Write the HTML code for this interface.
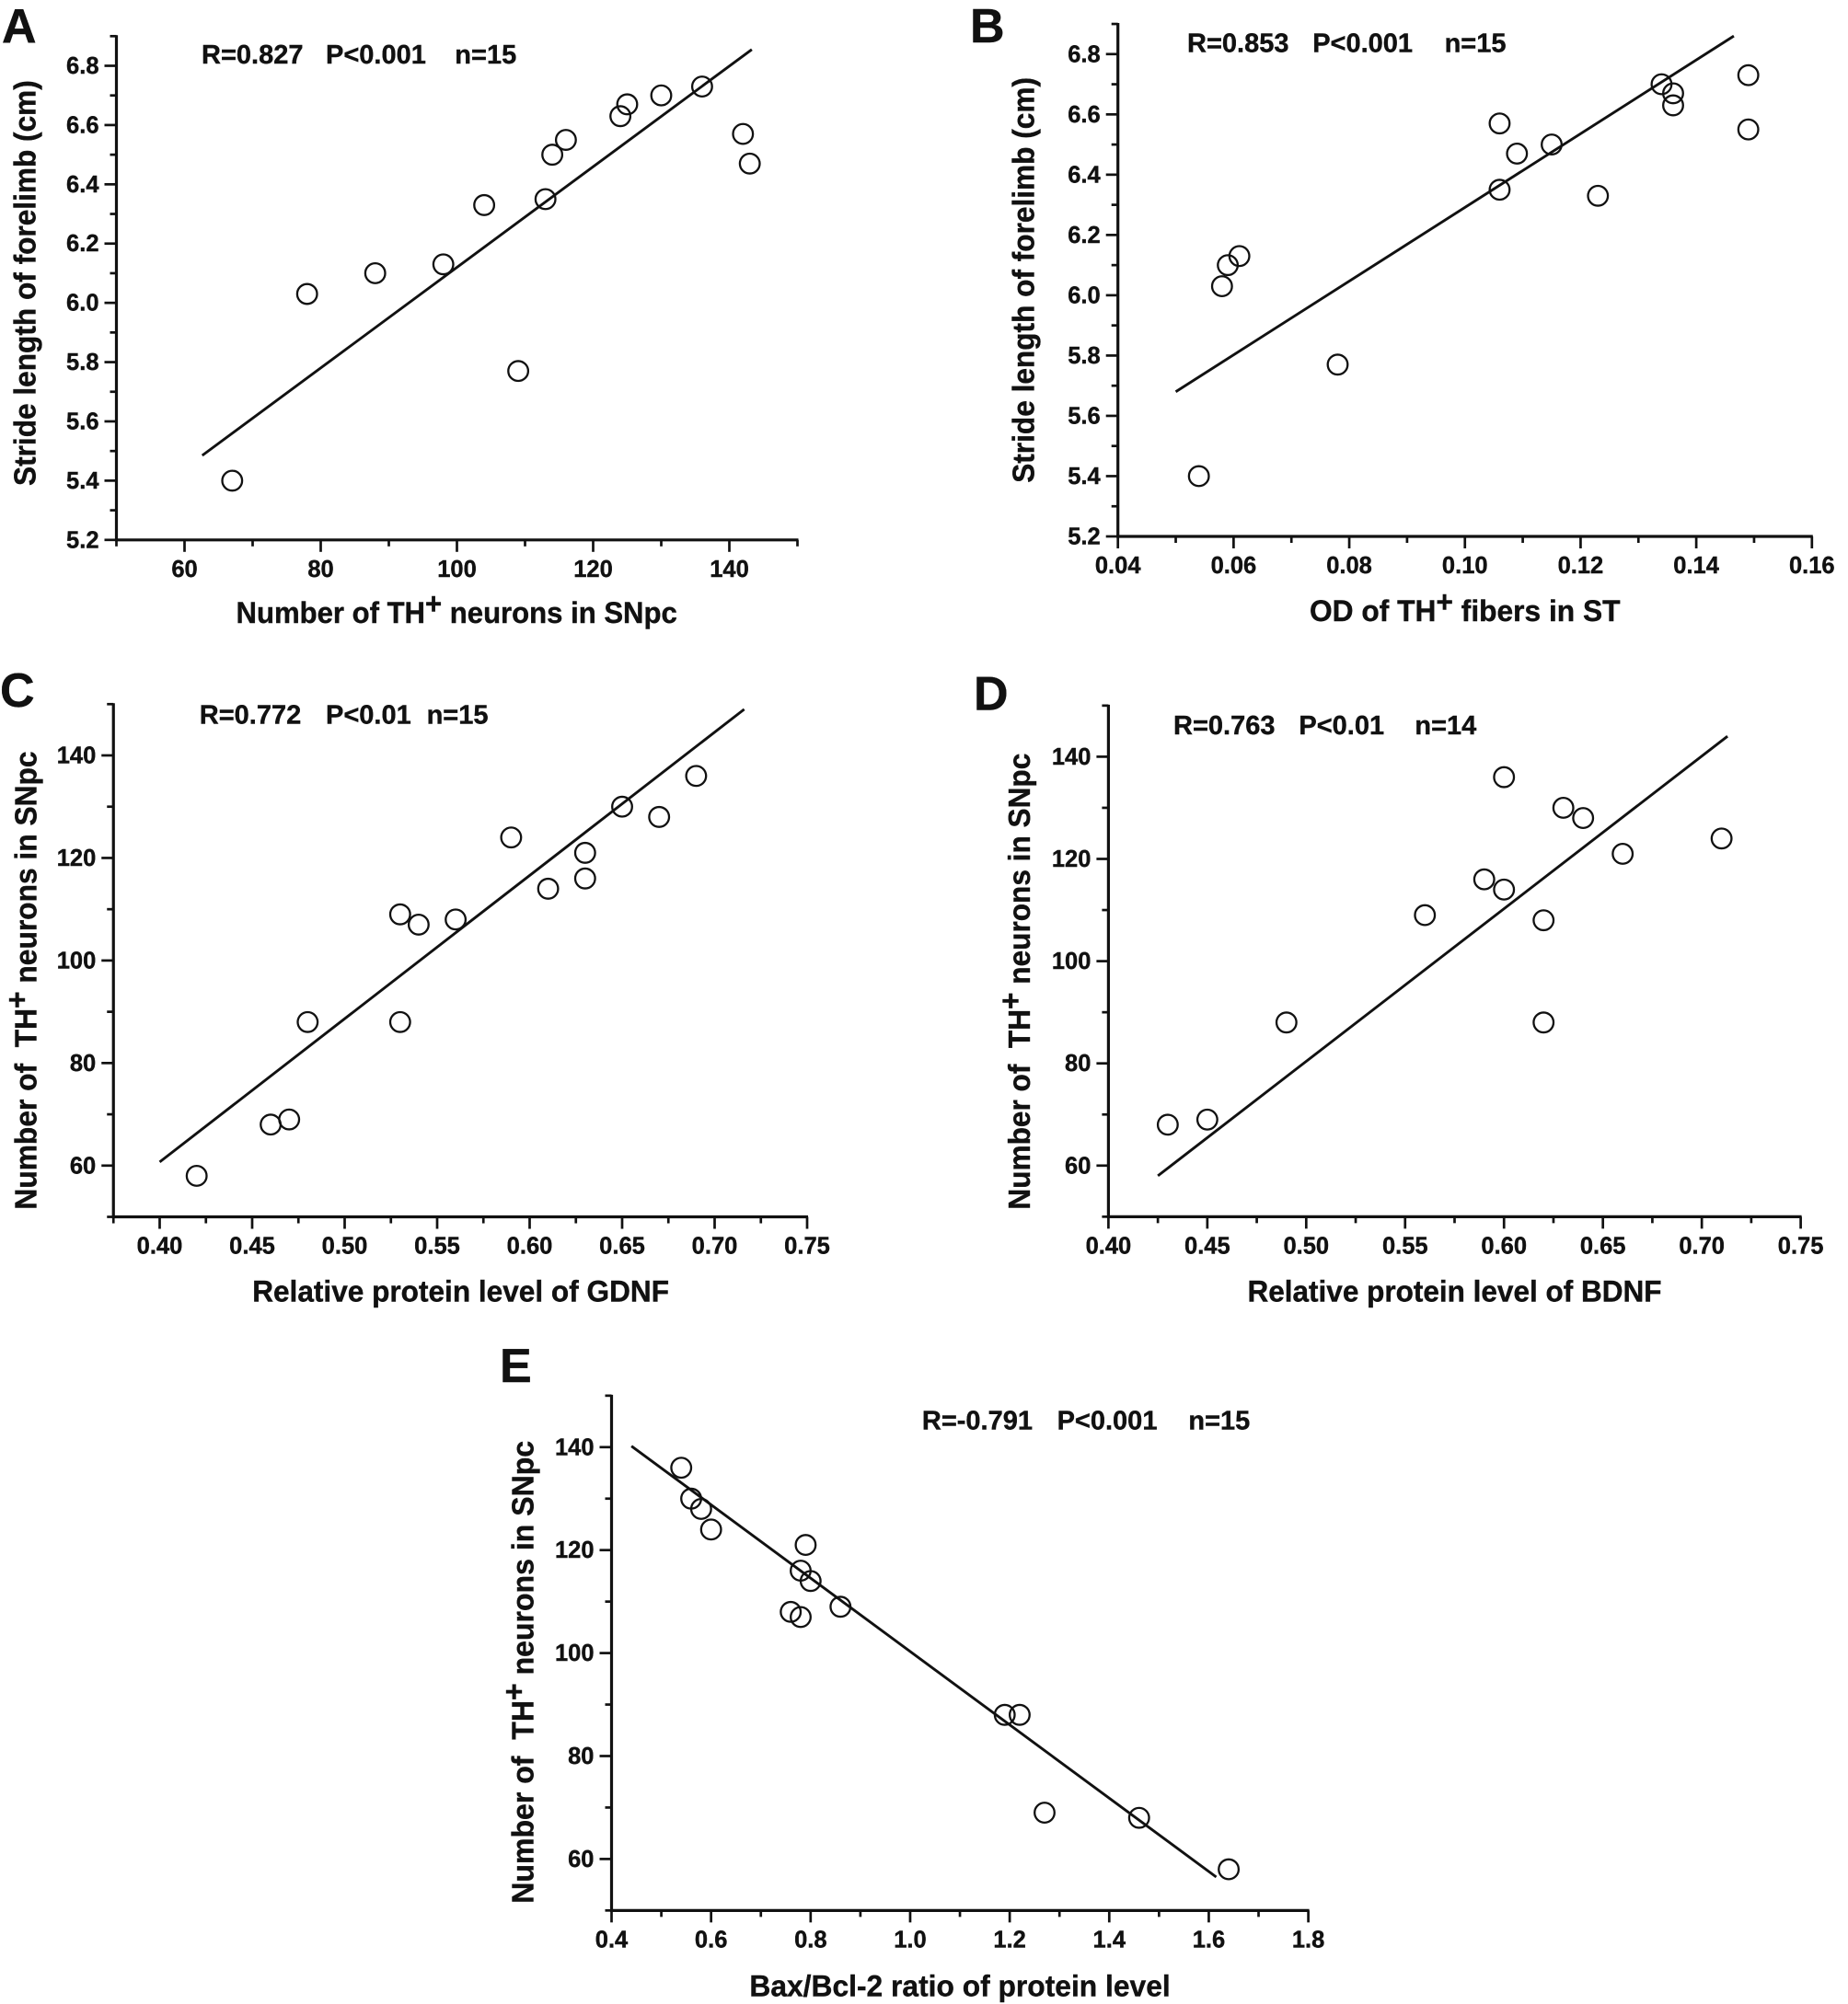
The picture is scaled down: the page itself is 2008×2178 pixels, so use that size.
<!DOCTYPE html>
<html lang="en">
<head>
<meta charset="utf-8">
<title>Correlation scatter plots</title>
<style>
html,body{margin:0;padding:0;background:#fff;}
svg{display:block;}
text{font-family:"Liberation Sans",Arial,sans-serif;font-weight:bold;fill:#111;stroke:#111;stroke-width:0.4px;}
</style>
</head>
<body>
<svg id="fig" xmlns="http://www.w3.org/2000/svg" width="2008" height="2178" viewBox="0 0 2008 2178"></svg>
<script>
// ---------- Panel A ----------
const aXValues = [67,78,88,98,104,109,113,114,116,124,125,130,136,142,143];
const aYValues = [5.4,6.03,6.1,6.13,6.33,5.77,6.35,6.5,6.55,6.63,6.67,6.7,6.73,6.57,6.47];
const aFitX = [62.6,143.3];
const aFitY = [5.485,6.855];
const aXTicks = ['60','80','100','120','140'];
const aYTicks = ['5.2','5.4','5.6','5.8','6.0','6.2','6.4','6.6','6.8'];
const aStats = ['R=0.827','P<0.001','n=15'];
// ---------- Panel B ----------
const bXValues = [0.054,0.058,0.059,0.061,0.078,0.106,0.106,0.109,0.115,0.123,0.134,0.136,0.136,0.149,0.149];
const bYValues = [5.4,6.03,6.1,6.13,5.77,6.57,6.35,6.47,6.5,6.33,6.7,6.63,6.67,6.73,6.55];
const bFitX = [0.05,0.1465];
const bFitY = [5.68,6.86];
const bXTicks = ['0.04','0.06','0.08','0.10','0.12','0.14','0.16'];
const bYTicks = ['5.2','5.4','5.6','5.8','6.0','6.2','6.4','6.6','6.8'];
const bStats = ['R=0.853','P<0.001','n=15'];
// ---------- Panel C ----------
const cXValues = [0.42,0.46,0.47,0.48,0.53,0.53,0.54,0.56,0.59,0.61,0.63,0.63,0.65,0.67,0.69];
const cYValues = [58,68,69,88,109,88,107,108,124,114,121,116,130,128,136];
const cFitX = [0.40,0.716];
const cFitY = [60.7,149];
const cXTicks = ['0.40','0.45','0.50','0.55','0.60','0.65','0.70','0.75'];
const cYTicks = ['60','80','100','120','140'];
const cStats = ['R=0.772','P<0.01','n=15'];
// ---------- Panel D ----------
const dXValues = [0.43,0.45,0.49,0.56,0.59,0.60,0.60,0.62,0.62,0.63,0.64,0.66,0.71];
const dYValues = [68,69,88,109,116,136,114,108,88,130,128,121,124];
const dFitX = [0.425,0.713];
const dFitY = [58,144];
const dXTicks = ['0.40','0.45','0.50','0.55','0.60','0.65','0.70','0.75'];
const dYTicks = ['60','80','100','120','140'];
const dStats = ['R=0.763','P<0.01','n=14'];
// ---------- Panel E ----------
const eXValues = [0.54,0.56,0.58,0.60,0.76,0.78,0.78,0.79,0.80,0.86,1.19,1.22,1.27,1.46,1.64];
const eYValues = [136,130,128,124,108,107,116,121,114,109,88,88,69,68,58];
const eFitX = [0.44,1.615];
const eFitY = [140.2,56.5];
const eXTicks = ['0.4','0.6','0.8','1.0','1.2','1.4','1.6','1.8'];
const eYTicks = ['60','80','100','120','140'];
const eStats = ['R=-0.791','P<0.001','n=15'];

const NS = 'http://www.w3.org/2000/svg';
const fig = document.getElementById('fig');

function line(parent, name, x1, y1, x2, y2, w) {
  const el = document.createElementNS(NS, 'line');
  
  
  el.setAttribute('x1', x1); el.setAttribute('y1', y1);
  el.setAttribute('x2', x2); el.setAttribute('y2', y2);
  el.setAttribute('stroke', '#111');
  el.setAttribute('stroke-width', w);
  parent.appendChild(el);
  return el;
}

function label(parent, name, str, x, y, size, anchor, fit) {
  const el = document.createElementNS(NS, 'text');
  
  
  el.setAttribute('x', x); el.setAttribute('y', y);
  el.setAttribute('font-size', size);
  el.setAttribute('text-anchor', anchor || 'start');
  if (fit) { el.setAttribute('textLength', fit); el.setAttribute('lengthAdjust', 'spacingAndGlyphs'); }
  el.textContent = str;
  parent.appendChild(el);
  return el;
}

// Axis title with a raised "+" : parts = [before, sup, after]
function richTitle(el, parts) {
  el.textContent = '';
  el.appendChild(document.createTextNode(parts[0]));
  if (parts[1]) {
    const up = document.createElementNS(NS, 'tspan');
    up.setAttribute('dy', '-10');
    up.textContent = parts[1];
    el.appendChild(up);
    const down = document.createElementNS(NS, 'tspan');
    down.setAttribute('dy', '10');
    down.textContent = parts[2];
    el.appendChild(down);
  }
}

function drawPanel(p) {
  const g = document.createElementNS(NS, 'g');
  
  
  fig.appendChild(g);

  const sx = v => p.px0 + (v - p.x0) / (p.x1 - p.x0) * (p.px1 - p.px0);
  const sy = v => p.py0 - (v - p.y0) / (p.y1 - p.y0) * (p.py0 - p.py1);

  label(g, 'panel-letter-' + p.id, p.id.toUpperCase(), p.letter[0], p.letter[1], 52);

  // axes
  const xDomL = p.xMin, xDomR = p.xMax;
  line(g, 'x-axis-line', sx(xDomL) - 1.5, sy(p.yMin), sx(xDomR) + 1, sy(p.yMin), 3.2);
  line(g, 'y-axis-line', sx(xDomL), sy(p.yMin) + 1.5, sx(xDomL), sy(p.yMax) - 1, 3.2);

  // x ticks
  const xm = p.xTicks.map(Number);
  const xStep = xm[1] - xm[0];
  p.xTicks.forEach((t, i) => {
    const px = sx(xm[i]);
    line(g, 'x-major-tick', px, sy(p.yMin), px, sy(p.yMin) + 13, 2.7);
    label(g, 'x-tick-label', t, px, sy(p.yMin) + 40, 25.5, 'middle');
  });
  for (let v = xm[0] - xStep / 2; v <= xDomR + 1e-6; v += xStep) {
    if (v < xDomL - 1e-6) continue;
    line(g, 'x-minor-tick', sx(v), sy(p.yMin), sx(v), sy(p.yMin) + 7, 2.7);
  }

  // y ticks
  const ym = p.yTicks.map(Number);
  const yStep = ym[1] - ym[0];
  p.yTicks.forEach((t, i) => {
    const py = sy(ym[i]);
    line(g, 'y-major-tick', sx(xDomL), py, sx(xDomL) - 13, py, 2.7);
    label(g, 'y-tick-label', t, sx(xDomL) - 19, py + 8.5, 25.5, 'end');
  });
  for (let v = ym[0] - yStep / 2; v <= p.yMax + 1e-6; v += yStep) {
    if (v < p.yMin - 1e-6) continue;
    line(g, 'y-minor-tick', sx(xDomL), sy(v), sx(xDomL) - 7, sy(v), 2.7);
  }

  // regression line
  line(g, 'regression-line', sx(p.fitX[0]), sy(p.fitY[0]), sx(p.fitX[1]), sy(p.fitY[1]), 2.9);

  // points
  p.xs.forEach((v, i) => {
    const c = document.createElementNS(NS, 'circle');
    
    
    c.setAttribute('cx', sx(v));
    c.setAttribute('cy', sy(p.ys[i]));
    c.setAttribute('r', 10.8);
    c.setAttribute('fill', 'none');
    c.setAttribute('stroke', '#111');
    c.setAttribute('stroke-width', 2.3);
    g.appendChild(c);
  });

  // statistics
  p.stats.forEach((s, i) => {
    label(g, 'stat-annotation', s, p.statX[i], p.statY, 29);
  });

  // x-axis title
  const xt = label(g, 'x-axis-title', '', p.xTitleX[0], p.xTitleY, 32, 'start', p.xTitleX[1] - p.xTitleX[0]);
  richTitle(xt, p.xTitle);

  // y-axis title
  const yt = label(g, 'y-axis-title', '', 0, 0, 33, 'start', p.yTitleSpan[0] - p.yTitleSpan[1]);
  yt.setAttribute('transform', 'translate(' + p.yTitleX + ',' + p.yTitleSpan[0] + ') rotate(-90)');
  richTitle(yt, p.yTitle);
}

drawPanel({id:'a', xs:aXValues, ys:aYValues, fitX:aFitX, fitY:aFitY, xTicks:aXTicks, yTicks:aYTicks, stats:aStats,
  x0:50,x1:150,px0:126.5,px1:866.5, y0:5.2,y1:6.8,py0:586.8,py1:71.5, xMin:50,xMax:150,yMin:5.2,yMax:6.9,
  letter:[2,46], statX:[219,354,494.3], statY:68.9,
  xTitle:['Number of TH','+',' neurons in SNpc'], xTitleX:[256.5,735.8], xTitleY:677,
  yTitle:['Stride length of forelimb (cm)'], yTitleX:38.3, yTitleSpan:[528,87.2]});

drawPanel({id:'b', xs:bXValues, ys:bYValues, fitX:bFitX, fitY:bFitY, xTicks:bXTicks, yTicks:bYTicks, stats:bStats,
  x0:0.04,x1:0.16,px0:1214.7,px1:1968.8, y0:5.2,y1:6.8,py0:583,py1:58.8, xMin:0.04,xMax:0.16,yMin:5.2,yMax:6.9,
  letter:[1054,46], statX:[1290,1426.2,1569.6], statY:56.5,
  xTitle:['OD of TH','+',' fibers in ST'], xTitleX:[1423,1760.5], xTitleY:675,
  yTitle:['Stride length of forelimb (cm)'], yTitleX:1123.4, yTitleSpan:[524.8,84]});

drawPanel({id:'c', xs:cXValues, ys:cYValues, fitX:cFitX, fitY:cFitY, xTicks:cXTicks, yTicks:cYTicks, stats:cStats,
  x0:0.40,x1:0.75,px0:173.5,px1:877, y0:60,y1:140,py0:1266.8,py1:821, xMin:0.375,xMax:0.75,yMin:50,yMax:150,
  letter:[0,768], statX:[216.8,354,463.6], statY:786.6,
  xTitle:['Relative protein level of GDNF'], xTitleX:[274.2,727], xTitleY:1414.7,
  yTitle:['Number of \u00a0TH','+',' neurons in SNpc'], yTitleX:39.5, yTitleSpan:[1314.6,816.4]});

drawPanel({id:'d', xs:dXValues, ys:dYValues, fitX:dFitX, fitY:dFitY, xTicks:dXTicks, yTicks:dYTicks, stats:dStats,
  x0:0.40,x1:0.75,px0:1204.4,px1:1956.6, y0:60,y1:140,py0:1266.8,py1:822.4, xMin:0.40,xMax:0.75,yMin:50,yMax:150,
  letter:[1058,771.4], statX:[1275,1411.4,1537.4], statY:798,
  xTitle:['Relative protein level of BDNF'], xTitleX:[1355.5,1805.5], xTitleY:1414.7,
  yTitle:['Number of \u00a0TH','+',' neurons in SNpc'], yTitleX:1119, yTitleSpan:[1314.6,818.7]});

drawPanel({id:'e', xs:eXValues, ys:eYValues, fitX:eFitX, fitY:eFitY, xTicks:eXTicks, yTicks:eYTicks, stats:eStats,
  x0:0.4,x1:1.8,px0:664.5,px1:1421.6, y0:60,y1:140,py0:2020.4,py1:1572.8, xMin:0.4,xMax:1.8,yMin:50,yMax:150,
  letter:[543,1502], statX:[1001.9,1148.6,1291.4], statY:1553.5,
  xTitle:['Bax/Bcl-2 ratio of protein level'], xTitleX:[814.4,1271.7], xTitleY:2169.7,
  yTitle:['Number of \u00a0TH','+',' neurons in SNpc'], yTitleX:579.7, yTitleSpan:[2068.7,1565.9]});
</script>
</body>
</html>
